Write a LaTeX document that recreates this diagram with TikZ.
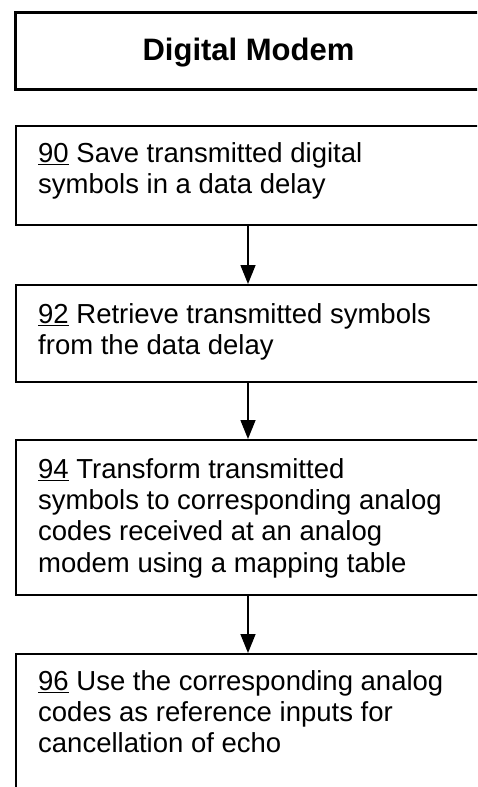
\documentclass[tikz,border=0pt]{standalone}
\usepackage{fontspec}
\setmainfont{Liberation Sans}
\usetikzlibrary{arrows.meta}
\newcommand\firstline{\rule{0pt}{22pt}}
\begin{document}
\begin{tikzpicture}[x=1pt,y=-1pt,
  stepbox/.style={draw, line width=1.6pt, minimum width=530pt, anchor=north west, inner sep=0pt},
  steptext/.style={anchor=north west, inner sep=0pt, align=left, font=\fontsize{27.5}{31.3}\selectfont},
  flow/.style={-{Triangle[width=15pt,length=19pt]}, line width=1.5pt}]
\useasboundingbox (0,0) rectangle (477,787);
\clip (0,0) rectangle (477,787);
\coordinate (ax) at (248,0);
\node[draw, line width=3pt, minimum width=530pt, minimum height=77pt, anchor=north west, inner sep=0pt] (hdr) at (14,11) {};
\node[font=\fontsize{31}{36}\selectfont\bfseries, anchor=base] (title) at (248.5,60) {Digital Modem};
\node[stepbox, minimum height=99pt] (b90) at (15,125) {};
\node[stepbox, minimum height=97pt] (b92) at (15,284) {};
\node[stepbox, minimum height=155pt] (b94) at (15,439) {};
\node[stepbox, minimum height=200pt] (b96) at (15,653) {};
\node[steptext] (t90) at (38,140) {\firstline\underline{90} Save transmitted digital\\symbols in a data delay};
\node[steptext] (t92) at (38,301) {\firstline\underline{92} Retrieve transmitted symbols\\from the data delay};
\node[steptext] (t94) at (38,456) {\firstline\underline{94} Transform transmitted\\symbols to corresponding analog\\codes received at an analog\\modem using a mapping table};
\node[steptext] (t96) at (38,668) {\firstline\underline{96} Use the corresponding analog\\codes as reference inputs for\\cancellation of echo};
\draw[flow] (b90.south -| ax) -- (b92.north -| ax);
\draw[flow] (b92.south -| ax) -- (b94.north -| ax);
\draw[flow] (b94.south -| ax) -- (b96.north -| ax);
\end{tikzpicture}
\end{document}
